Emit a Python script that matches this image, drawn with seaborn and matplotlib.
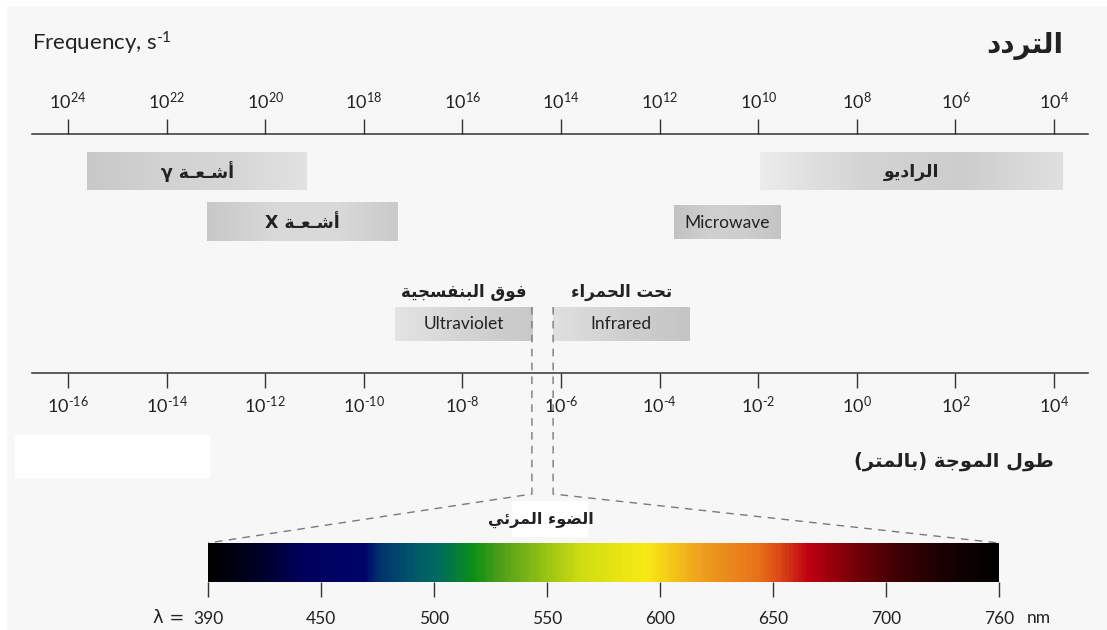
import numpy as np
import matplotlib
matplotlib.use("Agg")
import matplotlib.pyplot as plt
import seaborn as sns
from matplotlib.colors import LinearSegmentedColormap
from matplotlib.patches import Rectangle
from matplotlib.ticker import FixedLocator, FuncFormatter, NullLocator

# ---------------------------------------------------------------- data
wave_exps = list(range(-16, 5, 2))          # wavelength ticks, 10^n m
freq_exps = list(range(24, 3, -2))          # frequency ticks, 10^n s^-1

# bands placed on the frequency scale (log10 of s^-1)
freq_band_labels = ["أشـعـة γ", "أشـعـة X", "Microwave", "الراديو"]
freq_band_hi = [23.61, 21.18, 11.71, 9.96]
freq_band_lo = [19.15, 17.31, 9.54, 3.82]

# bands placed on the wavelength scale (log10 of m)
wave_band_labels = ["Ultraviolet", "Infrared"]
wave_band_titles = ["فوق البنفسجية", "تحت الحمراء"]
wave_band_lo = [-9.37, -6.16]
wave_band_hi = [-6.59, -3.40]

# visible spectrum
visible_ticks_nm = [390, 450, 500, 550, 600, 650, 700, 760]
visible_stop_nm = [390, 412, 439, 469, 475, 485, 494, 503, 517, 529, 547,
                   565, 594, 618, 644, 653, 666, 684, 707, 734, 760]
visible_stop_colors = ["#000000", "#00001f", "#00005c", "#000468", "#00306c",
                       "#004a6c", "#005f66", "#006c5a", "#0c8f14", "#4d9d18",
                       "#90c014", "#cfdc12", "#f8ea14", "#eea01e", "#e8701a",
                       "#dc4a16", "#c00012", "#7c0008", "#3e0004", "#160002",
                       "#000000"]

title_freq = "التردد"
title_wave = "طول الموجة (بالمتر)"
title_visible = "الضوء المرئي"


# ------------------------------------------------- Arabic text shaping
_FORMS = {  # isolated, final, initial, medial
    "\u0621": ("\uFE80", None, None, None),
    "\u0623": ("\uFE83", "\uFE84", None, None),
    "\u0626": ("\uFE89", "\uFE8A", "\uFE8B", "\uFE8C"),
    "\u0627": ("\uFE8D", "\uFE8E", None, None),
    "\u0628": ("\uFE8F", "\uFE90", "\uFE91", "\uFE92"),
    "\u0629": ("\uFE93", "\uFE94", None, None),
    "\u062A": ("\uFE95", "\uFE96", "\uFE97", "\uFE98"),
    "\u062C": ("\uFE9D", "\uFE9E", "\uFE9F", "\uFEA0"),
    "\u062D": ("\uFEA1", "\uFEA2", "\uFEA3", "\uFEA4"),
    "\u062F": ("\uFEA9", "\uFEAA", None, None),
    "\u0631": ("\uFEAD", "\uFEAE", None, None),
    "\u0633": ("\uFEB1", "\uFEB2", "\uFEB3", "\uFEB4"),
    "\u0634": ("\uFEB5", "\uFEB6", "\uFEB7", "\uFEB8"),
    "\u0636": ("\uFEBD", "\uFEBE", "\uFEBF", "\uFEC0"),
    "\u0637": ("\uFEC1", "\uFEC2", "\uFEC3", "\uFEC4"),
    "\u0639": ("\uFEC9", "\uFECA", "\uFECB", "\uFECC"),
    "\u0641": ("\uFED1", "\uFED2", "\uFED3", "\uFED4"),
    "\u0642": ("\uFED5", "\uFED6", "\uFED7", "\uFED8"),
    "\u0644": ("\uFEDD", "\uFEDE", "\uFEDF", "\uFEE0"),
    "\u0645": ("\uFEE1", "\uFEE2", "\uFEE3", "\uFEE4"),
    "\u0646": ("\uFEE5", "\uFEE6", "\uFEE7", "\uFEE8"),
    "\u0648": ("\uFEED", "\uFEEE", None, None),
    "\u064A": ("\uFEF1", "\uFEF2", "\uFEF3", "\uFEF4"),
}
_TATWEEL = "\u0640"
_MIRROR = {"(": ")", ")": "("}


def _joins_forward(ch):
    return ch == _TATWEEL or (ch in _FORMS and _FORMS[ch][2] is not None)


def _joins_backward(ch):
    return ch == _TATWEEL or (ch in _FORMS and _FORMS[ch][1] is not None)


def arabic(text):
    """Contextual letter forms + right-to-left ordering for the renderer."""
    out = []
    for i, ch in enumerate(text):
        if ch not in _FORMS:
            out.append(ch)
            continue
        prev = text[i - 1] if i > 0 else ""
        nxt = text[i + 1] if i + 1 < len(text) else ""
        p = bool(prev) and _joins_forward(prev) and _FORMS[ch][1] is not None
        n = bool(nxt) and _joins_backward(nxt) and _FORMS[ch][2] is not None
        iso, fin, ini, med = _FORMS[ch]
        out.append(med if (p and n) else fin if p else ini if n else iso)
    return "".join(_MIRROR.get(c, c) for c in reversed(out))


def is_arabic(s):
    return any("\u0600" <= c <= "\u06FF" for c in s)


# ---------------------------------------------------------------- style
sns.set_theme(style="white")
plt.rcParams["font.family"] = ["Lato", "DejaVu Sans"]
plt.rcParams["mathtext.fontset"] = "custom"
plt.rcParams["mathtext.rm"] = "Lato"
plt.rcParams["mathtext.it"] = "Lato:italic"
plt.rcParams["mathtext.bf"] = "Lato:bold"
AR_FONT = ["DejaVu Sans"]
INK = "#222222"
AXIS_INK = "#333333"

W, H = 1107, 630
fig = plt.figure(figsize=(W / 100, H / 100), dpi=100)
fig.patch.set_facecolor("white")

# drawing layer in pixel units (y downwards)
canvas = fig.add_axes([0, 0, 1, 1], zorder=0)
canvas.set_autoscale_on(False)
canvas.set_xlim(0, W)
canvas.set_ylim(H, 0)
canvas.axis("off")
canvas.add_patch(Rectangle((7, 6), W - 7, H - 6, color="#f7f7f7", lw=0))
canvas.add_patch(Rectangle((15, 435), 195, 43, color="white", lw=0))

# ------------------------------------------------------ the two scales
PX_DEC = 49.3
AX_L, AX_R, AX_TOP, AX_BOT = 32, 1088, 134, 372.5
ax = fig.add_axes([AX_L / W, 1 - AX_BOT / H, (AX_R - AX_L) / W,
                   (AX_BOT - AX_TOP) / H], zorder=2)
ax.patch.set_alpha(0)
ax.set_xscale("log")
ax.set_xlim(10 ** (-16 - (68 - AX_L) / PX_DEC), 10 ** (-16 + (AX_R - 68) / PX_DEC))
ax.set_ylim(AX_BOT, AX_TOP)
ax.set_yticks([])

axf = ax.twiny()
axf.set_xscale("log")
axf.set_xlim(10 ** (24 + (68 - AX_L) / PX_DEC), 10 ** (24 - (AX_R - 68) / PX_DEC))


def power_label(v, pos):
    e = int(round(np.log10(v)))
    sup = (r"\text{-}%d" % -e) if e < 0 else "%d" % e
    return r"$\mathregular{10}^{%s}$" % sup


pow_fmt = FuncFormatter(power_label)
for a, exps, side in [(ax, wave_exps, "bottom"), (axf, freq_exps, "top")]:
    a.xaxis.set_major_locator(FixedLocator([10.0 ** e for e in exps]))
    a.xaxis.set_minor_locator(NullLocator())
    a.xaxis.set_major_formatter(pow_fmt)
    for s in ["left", "right", "top", "bottom"]:
        a.spines[s].set_visible(s == side)
    a.spines[side].set_color(AXIS_INK)
    a.spines[side].set_linewidth(1.1)
    a.tick_params(axis="x", which="major", direction="out", length=10.8,
                  width=1.0, color=AXIS_INK, labelcolor=INK, labelsize=13,
                  pad=5, **{side: True, "label" + side: True})
ax.grid(False)
axf.grid(False)


def px_x(a, value):
    return a.transData.transform((value, 0))[0]


def grad_box(x0, x1, y0, y1, colors):
    cm = LinearSegmentedColormap.from_list("box", colors)
    canvas.imshow(np.linspace(0, 1, 256)[None, :], cmap=cm, aspect="auto",
                  extent=(x0, x1, y1, y0), interpolation="bilinear", zorder=1)


def label(x, y, s, size, weight="normal"):
    if is_arabic(s):
        canvas.text(x, y, arabic(s), ha="center", va="center", fontsize=size,
                    family=AR_FONT, fontweight=weight, color=INK, zorder=3)
    else:
        canvas.text(x, y, s, ha="center", va="center", fontsize=size,
                    color=INK, zorder=3)


# bands on the frequency scale
freq_rows = [(152, 190), (202, 241), (205, 239), (152, 190)]
freq_shades = [["#c8c8c8", "#d2d2d2", "#d6d6d6", "#e2e2e2"],
               ["#c8c8c8", "#d8d8d8", "#dadada", "#cacaca"],
               ["#c2c2c2", "#d0d0d0", "#cecece", "#c4c4c4"],
               ["#ececec", "#d4d4d4", "#cdcdcd", "#e0e0e0"]]
for lab, hi, lo, (y0, y1), shade in zip(freq_band_labels, freq_band_hi,
                                          freq_band_lo, freq_rows, freq_shades):
    x0, x1 = px_x(axf, 10 ** hi), px_x(axf, 10 ** lo)
    grad_box(x0, x1, y0, y1, shade)
    label((x0 + x1) / 2, (y0 + y1) / 2 + 1, lab, 12.5,
          "bold" if is_arabic(lab) else "normal")

# bands on the wavelength scale
uv_ir_edges = []
wave_shades = [["#e4e4e4", "#d4d4d4", "#c8c8c8"],
               ["#e0e0e0", "#d0d0d0", "#c4c4c4"]]
for lab, ttl, lo, hi, shade in zip(wave_band_labels, wave_band_titles,
                                   wave_band_lo, wave_band_hi, wave_shades):
    x0, x1 = px_x(ax, 10 ** lo), px_x(ax, 10 ** hi)
    uv_ir_edges.append((x0, x1))
    grad_box(x0, x1, 307, 341, shade)
    label((x0 + x1) / 2, 324, lab, 12.5)
    label((x0 + x1) / 2, 292, ttl, 12, "bold")

# ---------------------------------------------------- visible spectrum
SP_L, SP_R, SP_TOP, SP_BOT = 208, 999, 543, 582
ax_sp = fig.add_axes([SP_L / W, 1 - SP_BOT / H, (SP_R - SP_L) / W,
                      (SP_BOT - SP_TOP) / H], zorder=2)
n_ticks = len(visible_ticks_nm) - 1
stop_pos = np.interp(visible_stop_nm, visible_ticks_nm, np.arange(len(visible_ticks_nm))) / n_ticks
spec_cmap = LinearSegmentedColormap.from_list("visible", list(zip(stop_pos, visible_stop_colors)))
cols = 700
sns.heatmap(np.linspace(0, 1, cols)[None, :], cmap=spec_cmap, vmin=0, vmax=1,
            cbar=False, ax=ax_sp, xticklabels=False, yticklabels=False)
ax_sp.set_xticks(np.linspace(0, cols, len(visible_ticks_nm)))
ax_sp.set_xticklabels([str(v) for v in visible_ticks_nm], rotation=0)
ax_sp.tick_params(axis="x", bottom=True, labelbottom=True, direction="out",
                  length=10.8, width=1.0, color=AXIS_INK, labelcolor=INK,
                  labelsize=12.5, pad=10)
ax_sp.tick_params(axis="y", left=False)
for s in ax_sp.spines.values():
    s.set_visible(False)
canvas.text(184, 618, "λ =", ha="right", va="center", fontsize=13, color=INK,
            family=["DejaVu Sans"])
canvas.text(1027, 618, "nm", ha="left", va="center", fontsize=12.5, color=INK)

# dashed guides from UV / IR edges down to the spectrum
(uv0, uv1), (ir0, ir1) = uv_ir_edges
dash = dict(color="#7a7a7a", lw=1.0, dashes=(5.5, 4.5), zorder=1.5)
canvas.plot([uv1, uv1, SP_L], [307, 494, SP_TOP], **dash)
canvas.plot([ir0, ir0, SP_R], [307, 494, SP_TOP], **dash)
canvas.add_patch(Rectangle((512, 501), 76, 36, color="white", lw=0, zorder=2))
label(541, 520, title_visible, 11.5, "bold")

# titles
canvas.text(32, 43, r"Frequency, s$^{\text{-}\mathregular{1}}$", ha="left",
            va="center", fontsize=16, color=INK)
canvas.text(1063, 46, arabic(title_freq), ha="right", va="center",
            fontsize=20, family=AR_FONT, fontweight="bold", color=INK)
canvas.text(1054, 461, arabic(title_wave), ha="right", va="center",
            fontsize=14, family=AR_FONT, fontweight="bold", color=INK)

fig.savefig("out.png", dpi=100, facecolor=fig.get_facecolor())
